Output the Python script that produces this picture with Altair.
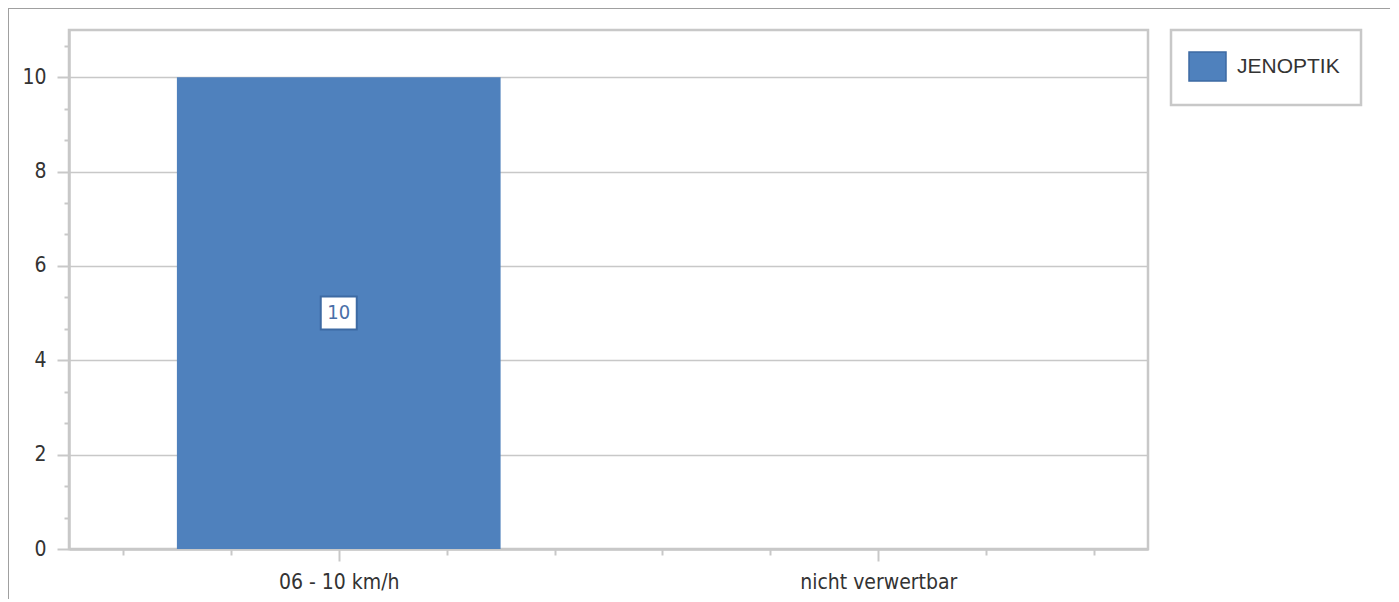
import altair as alt
import pandas as pd

categories = ["06 - 10 km/h", "nicht verwertbar"]
values = [10, 0]
series = ["JENOPTIK", "JENOPTIK"]
value_labels = ["10", ""]
y_ticks = [round(i * 2 / 3, 4) for i in range(17)]
x_ticks = [1, 3, 5, 7, 9, 11, 13, 15, 17, 19]

df = pd.DataFrame({"cat": categories, "value": values, "series": series, "label": value_labels})

GRAY = "#c8c8c8"
TXT = "#333333"
FONT = "DejaVu Sans Condensed, DejaVu Sans"

major_y = "abs(datum.value - 2*round(datum.value/2)) < 0.001"
major_x = "datum.value == 5 || datum.value == 15"

frame = alt.Chart(df).mark_rect(fill=None, stroke="#a0a0a0", strokeWidth=2, clip=False).encode(
    x=alt.value(-61), x2=alt.value(1322), y=alt.value(-22), y2=alt.value(650)
)

xaxis_layer = alt.Chart(df).mark_point(opacity=0).encode(
    x=alt.XDatum(
        0,
        type="quantitative",
        scale=alt.Scale(domain=[0, 20], nice=False, zero=False),
        axis=alt.Axis(
            values=x_ticks,
            tickCount=40,
            title=None,
            grid=False,
            domainColor=GRAY,
            domainWidth=2.5,
            tickColor=GRAY,
            tickWidth=2,
            tickSize={"condition": {"test": major_x, "value": 12}, "value": 6},
            labelExpr=f"datum.value == 5 ? '{categories[0]}' : datum.value == 15 ? '{categories[1]}' : ''",
            labelFont=FONT,
            labelFontSize=21,
            labelColor=TXT,
            labelPadding=10,
            labelFlush=False,
            labelOverlap=False,
        ),
    ),
)

xcat = alt.X("cat:N", axis=None, sort=categories,
             scale=alt.Scale(paddingInner=0.4, paddingOuter=0.2))

bars = alt.Chart(df).mark_bar(color="#4f81bd").encode(
    x=xcat,
    y=alt.Y(
        "value:Q",
        scale=alt.Scale(domain=[0, 11], nice=False),
        axis=alt.Axis(
            values=y_ticks,
            tickCount=40,
            title=None,
            domainColor=GRAY,
            domainWidth=2.5,
            grid=True,
            gridColor={"condition": {"test": major_y, "value": GRAY}, "value": "transparent"},
            gridWidth=1.5,
            tickColor=GRAY,
            tickWidth=2,
            tickSize={"condition": {"test": major_y, "value": 12}, "value": 5},
            labelExpr=f"({major_y}) ? format(datum.value, 'd') : ''",
            labelFont=FONT,
            labelFontSize=21,
            labelColor=TXT,
            labelPadding=11,
            labelOverlap=False,
        ),
    ),
    color=alt.Color(
        "series:N",
        scale=alt.Scale(range=["#4f81bd"]),
        legend=alt.Legend(
            title=None,
            orient="none",
            legendX=1102,
            legendY=0,
            padding=21,
            strokeColor=GRAY,
            labelFont="Liberation Sans, Arial",
            labelFontSize=21,
            labelColor=TXT,
            labelOffset=14,
            symbolType="M-1.276,-1L1.276,-1L1.276,1L-1.276,1Z",
            symbolSize=841,
            symbolStrokeColor="#3d6aa3",
            symbolStrokeWidth=1.5,
        ),
    ),
)

label_df = df[df["label"] != ""]

box = alt.Chart(label_df).transform_calculate(mid="datum.value / 2").mark_point(
    shape="M-1,-0.917L1,-0.917L1,0.917L-1,0.917Z",
    size=1296,
    filled=True,
    fill="white",
    stroke="#3d6aa3",
    strokeWidth=2,
    opacity=1,
).encode(
    x=xcat,
    y=alt.Y("mid:Q"),
)

text = alt.Chart(label_df).transform_calculate(mid="datum.value / 2").mark_text(
    font=FONT, fontSize=20, color="#4a6fa8", baseline="middle", align="center"
).encode(
    x=xcat,
    y=alt.Y("mid:Q"),
    text="label:N",
)

main = alt.layer(bars, box, text)

chart = (
    alt.layer(frame, xaxis_layer, main)
    .resolve_scale(x="independent")
    .properties(
        width=1079,
        height=519,
        padding={"left": 61, "top": 22, "right": 242, "bottom": 50},
        autosize=alt.AutoSizeParams(type="none"),
        background="white",
    )
    .configure_view(stroke=GRAY, strokeWidth=2.5)
    .configure_legend(strokeWidth=2.5)
)

chart.save("out.html", embed_options={"renderer": "svg", "actions": False})
